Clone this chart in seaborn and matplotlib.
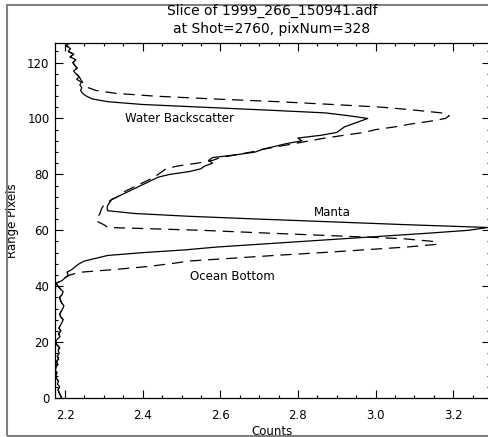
import numpy as np
import pandas as pd
import seaborn as sns
import matplotlib.pyplot as plt
from matplotlib.patches import Rectangle
from matplotlib.ticker import MultipleLocator

sns.set_style("ticks")
plt.rcParams["font.family"] = ["DejaVu Sans"]
plt.rcParams["text.color"] = "black"
plt.rcParams["axes.labelcolor"] = "black"

## Data: counts per range pixel (0..127)
range_px = list(range(128))

counts_solid = [
    2.191, 2.188, 2.184, 2.182, 2.186, 2.180, 2.183, 2.178, 2.176, 2.179,
    2.175, 2.177, 2.181, 2.178, 2.183, 2.180, 2.185, 2.182, 2.186, 2.179,
    2.175, 2.180, 2.187, 2.183, 2.189, 2.184, 2.188, 2.192, 2.195, 2.189,
    2.186, 2.190, 2.194, 2.197, 2.191, 2.188, 2.186, 2.192, 2.195, 2.188,
    2.182, 2.176, 2.192, 2.200, 2.208, 2.205, 2.218, 2.226, 2.236, 2.250,
    2.280, 2.310, 2.400, 2.510, 2.590, 2.700, 2.810, 2.920, 3.030, 3.140,
    3.240, 3.290, 3.080, 2.890, 2.700, 2.520, 2.380, 2.310, 2.308, 2.310,
    2.315, 2.320, 2.335, 2.350, 2.365, 2.380, 2.395, 2.410, 2.425, 2.440,
    2.470, 2.520, 2.550, 2.560, 2.580, 2.570, 2.580, 2.640, 2.690, 2.710,
    2.740, 2.770, 2.810, 2.800, 2.860, 2.900, 2.910, 2.920, 2.940, 2.960,
    2.980, 2.930, 2.870, 2.720, 2.560, 2.400, 2.310, 2.270, 2.255, 2.245,
    2.240, 2.243, 2.238, 2.242, 2.230, 2.236, 2.228, 2.222, 2.231, 2.225,
    2.220, 2.228, 2.213, 2.222, 2.208, 2.214, 2.203, 2.210,
]

counts_dashed = [
    2.191, 2.188, 2.184, 2.182, 2.186, 2.180, 2.183, 2.178, 2.176, 2.179,
    2.175, 2.177, 2.181, 2.178, 2.183, 2.180, 2.185, 2.182, 2.186, 2.179,
    2.175, 2.180, 2.187, 2.183, 2.189, 2.184, 2.188, 2.192, 2.195, 2.189,
    2.186, 2.190, 2.194, 2.197, 2.191, 2.188, 2.186, 2.192, 2.195, 2.188,
    2.182, 2.176, 2.192, 2.200, 2.212, 2.240, 2.330, 2.410, 2.470, 2.520,
    2.630, 2.740, 2.860, 2.970, 3.080, 3.160, 3.150, 3.070, 2.900, 2.720,
    2.550, 2.310, 2.300, 2.285, 2.280, 2.285, 2.290, 2.292, 2.295, 2.300,
    2.310, 2.320, 2.335, 2.345, 2.355, 2.370, 2.385, 2.400, 2.415, 2.430,
    2.440, 2.450, 2.460, 2.490, 2.540, 2.580, 2.600, 2.640, 2.680, 2.710,
    2.750, 2.790, 2.830, 2.870, 2.920, 2.970, 3.000, 3.050, 3.090, 3.140,
    3.180, 3.190, 3.170, 3.100, 3.020, 2.890, 2.750, 2.580, 2.430, 2.330,
    2.280, 2.260, 2.250, 2.245, 2.240, 2.236, 2.228, 2.222, 2.231, 2.225,
    2.220, 2.228, 2.213, 2.222, 2.208, 2.214, 2.203, 2.210,
]

labels = ["Water Backscatter", "Manta", "Ocean Bottom"]
label_x = [2.496, 2.888, 2.63]
label_y = [100.0, 66.5, 43.5]

df = pd.DataFrame({"range": range_px, "solid": counts_solid, "dashed": counts_dashed})

## Plot
fig = plt.figure(figsize=(4.88, 4.37), dpi=100)
ax = fig.add_axes([55 / 488, 39 / 437, 435 / 488, 355 / 437])

sns.lineplot(data=df, x="solid", y="range", orient="y", sort=False,
             estimator=None, color="black", linewidth=0.9, ax=ax)
sns.lineplot(data=df, x="dashed", y="range", orient="y", sort=False,
             estimator=None, color="black", linewidth=0.9,
             linestyle=(0, (9, 5.5)), ax=ax)

for txt, x, y in zip(labels, label_x, label_y):
    ax.text(x, y, txt, ha="center", va="center", fontsize=8.5, color="black")

ax.set_xlim(2.174, 3.295)
ax.set_ylim(0, 127)
ax.xaxis.set_major_locator(MultipleLocator(0.2))
ax.xaxis.set_minor_locator(MultipleLocator(0.05))
ax.yaxis.set_major_locator(MultipleLocator(20))
ax.yaxis.set_minor_locator(MultipleLocator(4))
ax.set_xticks([2.2, 2.4, 2.6, 2.8, 3.0, 3.2])
ax.set_xticklabels(["2.2", "2.4", "2.6", "2.8", "3.0", "3.2"])
ax.tick_params(which="both", direction="in", top=True, right=True,
               labelsize=8.5, colors="black", width=0.8)
ax.tick_params(which="major", length=5.5)
ax.tick_params(which="minor", length=2.5)
ax.tick_params(axis="x", which="major", pad=8)
ax.tick_params(axis="y", which="major", pad=4)
for sp in ax.spines.values():
    sp.set_linewidth(0.9)
    sp.set_color("black")

ax.set_xlabel("Counts", fontsize=8.5, labelpad=2)
ax.set_ylabel("Range Pixels", fontsize=8.5, labelpad=6)

fig.text(272 / 488, 1 - 11 / 437, "Slice of 1999_266_150941.adf",
         ha="center", va="center", fontsize=10, color="black")
fig.text(272 / 488, 1 - 29 / 437, "at Shot=2760, pixNum=328",
         ha="center", va="center", fontsize=10, color="black")

# outer frame
fig.patches.append(Rectangle((7 / 488, 1 / 437), 1.0, 431 / 437,
                             transform=fig.transFigure, fill=False,
                             edgecolor="#808080", linewidth=1.5))

plt.savefig("out.png", dpi=100)
